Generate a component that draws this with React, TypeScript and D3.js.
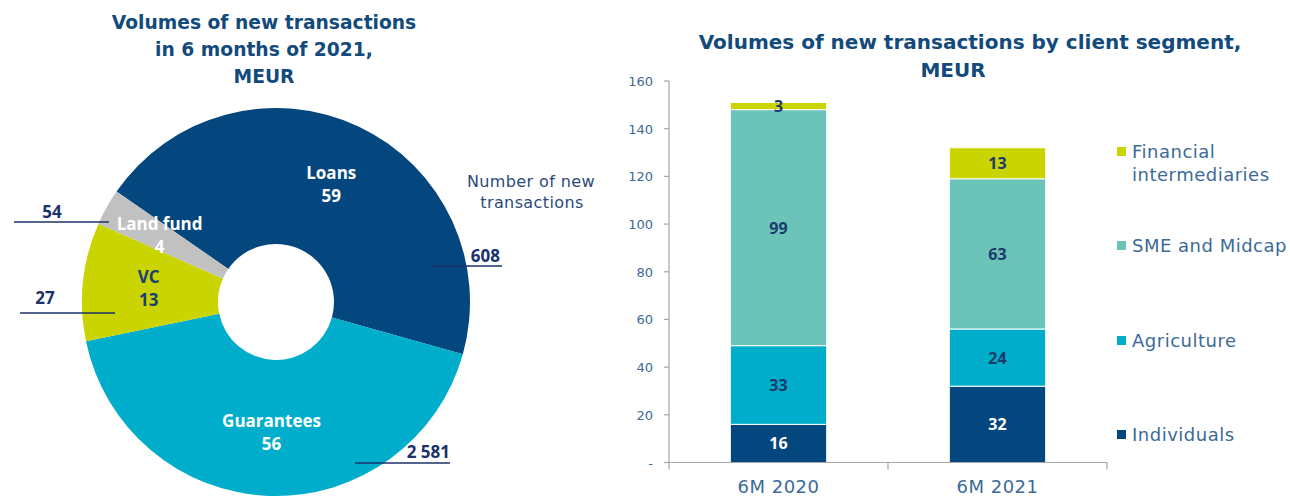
import React from 'react';
import * as d3 from 'd3';

// ---- Data ----
const donutCategories = ['Loans', 'Guarantees', 'VC', 'Land fund'];
const donutVolumes = [59, 56, 13, 4];
const donutTransactions = ['608', '2 581', '27', '54'];

const periods = ['6M 2020', '6M 2021'];
const segmentNames = ['Individuals', 'Agriculture', 'SME and Midcap', 'Financial intermediaries'];
const individuals = [16, 32];
const agriculture = [33, 24];
const smeMidcap = [99, 63];
const financialIntermediaries = [3, 13];
const yTickValues = [0, 20, 40, 60, 80, 100, 120, 140, 160];

// ---- Styles ----
const FONT = "'Open Sans', 'DejaVu Sans', sans-serif";
const WIDE = "'DejaVu Sans', 'Open Sans', sans-serif";
const TITLE = '#124a7c';
const NAVY = '#1b326b';
const AXISTXT = '#3b6a98';
const donutColors = ['#03477e', '#00aecb', '#c9d400', '#c1c1c1'];
const donutTextColors = ['#ffffff', '#ffffff', '#1d3f78', '#ffffff'];
const segColors = ['#03477e', '#00adca', '#6cc3b8', '#c9d400'];
const segTextColors = ['#ffffff', '#1d3a6d', '#1d3a6d', '#1d3a6d'];

// annotation layout for outside counts (line y offset from centre, line x range, text position)
const annot = [
  { ly: -36, x0: 156, x1: 226, tx: 224, ty: -46 },
  { ly: 161, x0: 79, x1: 174, tx: 174, ty: 150 },
  { ly: 11, x0: -256, x1: -161, tx: -231, ty: -4 },
  { ly: -80, x0: -262, x1: -167, tx: -224, ty: -90 },
];
const labelNudge = [
  [0, 0],
  [0, 0],
  [2, 0],
  [-3, -4],
];

export default function App() {
  const W = 1290, H = 496;
  // donut
  const cx = 276, cy = 302, rOut = 194, rIn = 58;
  const start = (-55.3 * Math.PI) / 180;
  const pie = d3.pie<number>().sort(null).startAngle(start).endAngle(start + 2 * Math.PI);
  const arcs = pie(donutVolumes);
  const arc = d3.arc<d3.PieArcDatum<number>>().innerRadius(rIn).outerRadius(rOut);
  const labelArc = d3.arc<d3.PieArcDatum<number>>().innerRadius(130).outerRadius(130);

  // bars
  const x = d3.scaleBand<string>().domain(periods).range([669, 1107]).paddingInner(0.56).paddingOuter(0.28);
  const y = d3.scaleLinear().domain([0, 160]).range([462.5, 81]);
  const series = [individuals, agriculture, smeMidcap, financialIntermediaries];
  const table = periods.map((p, i) => {
    const row: any = { period: p };
    segmentNames.forEach((s, k) => (row[s] = series[k][i]));
    return row;
  });
  const stacked = d3.stack<any>().keys(segmentNames)(table);

  const legendY = [435, 341, 246, 152];

  return (
    <svg width={W} height={H} style={{ position: 'absolute', left: 0, top: 0, background: '#fff' }} fontFamily={FONT}>
      {/* Left title */}
      <g fill={TITLE} fontWeight={700} fontSize={18.7} textAnchor="middle" fontFamily={WIDE}>
        <text x={264} y={29}>Volumes of new transactions</text>
        <text x={264} y={56}>in 6 months of 2021,</text>
        <text x={264} y={83}>MEUR</text>
      </g>
      {/* Donut */}
      <g transform={`translate(${cx},${cy})`}>
        {arcs.map((a, i) => (
          <path key={i} d={arc(a) || ''} fill={donutColors[i]} />
        ))}
        {arcs.map((a, i) => {
          const [lx0, ly0] = labelArc.centroid(a);
          const lx = lx0 + labelNudge[i][0];
          const ly = ly0 + labelNudge[i][1];
          return (
            <g key={'l' + i} fill={donutTextColors[i]} fontWeight={700} fontSize={17} textAnchor="middle">
              <text x={lx} y={ly - 5}>{donutCategories[i]}</text>
              <text x={lx} y={ly + 18}>{donutVolumes[i]}</text>
            </g>
          );
        })}
        {annot.map((a, i) => (
          <g key={'a' + i}>
            <line x1={a.x0} x2={a.x1} y1={a.ly} y2={a.ly} stroke={NAVY} strokeWidth={1.5} />
            <text x={a.tx} y={a.ty + 6} fill={NAVY} fontWeight={700} fontSize={17} textAnchor={i < 2 ? 'end' : 'middle'}>
              {donutTransactions[i]}
            </text>
          </g>
        ))}
      </g>
      <g fill="#2b4a7c" fontSize={16} letterSpacing={0.4} textAnchor="middle" fontFamily={WIDE}>
        <text x={531} y={187}>Number of new</text>
        <text x={532} y={208}>transactions</text>
      </g>

      {/* Right title */}
      <g fill={TITLE} fontWeight={700} fontSize={20} textAnchor="middle" fontFamily={WIDE}>
        <text x={970} y={49}>Volumes of new transactions by client segment,</text>
        <text x={953} y={77}>MEUR</text>
      </g>

      {/* Bars */}
      {stacked.map((s, k) => (
        <g key={s.key}>
          {s.map((d, i) => (
            <rect
              key={i}
              x={x(periods[i])}
              width={x.bandwidth()}
              y={y(d[1])}
              height={y(d[0]) - y(d[1])}
              fill={segColors[k]}
              stroke="#fff"
              strokeWidth={1}
            />
          ))}
        </g>
      ))}
      {stacked.map((s, k) => (
        <g key={'t' + s.key} fill={segTextColors[k]} fontWeight={700} fontSize={16} textAnchor="middle">
          {s.map((d, i) => (
            <text key={i} x={(x(periods[i]) || 0) + x.bandwidth() / 2} y={y((d[0] + d[1]) / 2) + 6}>
              {series[k][i]}
            </text>
          ))}
        </g>
      ))}

      {/* Y axis */}
      <line x1={669} x2={669} y1={y(160)} y2={y(0)} stroke="#a6a6a6" strokeWidth={1.2} />
      {yTickValues.map((t) => (
        <g key={t}>
          <line x1={664} x2={669} y1={y(t)} y2={y(t)} stroke="#a6a6a6" strokeWidth={1.2} />
          <text x={653} y={y(t) + 5} fill={AXISTXT} fontSize={13} textAnchor="end" fontFamily={WIDE}>
            {t === 0 ? '-' : t}
          </text>
        </g>
      ))}
      {/* X axis */}
      <line x1={669} x2={1107} y1={y(0)} y2={y(0)} stroke="#a6a6a6" strokeWidth={1.2} />
      {[669, 669 + x.step(), 1107].map((t, i) => (
        <line key={i} x1={t} x2={t} y1={y(0)} y2={y(0) + 7} stroke="#a6a6a6" strokeWidth={1.2} />
      ))}
      {periods.map((p) => (
        <text key={p} x={(x(p) || 0) + x.bandwidth() / 2} y={493} fill={AXISTXT} fontSize={18} letterSpacing={0.5} textAnchor="middle" fontFamily={WIDE}>
          {p}
        </text>
      ))}

      {/* Legend */}
      {segmentNames.map((s, k) => (
        <g key={s} fontFamily={WIDE} fontSize={18} letterSpacing={0.5}>
          <rect x={1117} y={legendY[k] - 5} width={9} height={9} fill={segColors[k]} />
          {s === 'Financial intermediaries' ? (
            <text fill={AXISTXT}>
              <tspan x={1132} y={legendY[k] + 6}>Financial</tspan>
              <tspan x={1132} y={legendY[k] + 29}>intermediaries</tspan>
            </text>
          ) : (
            <text x={1132} y={legendY[k] + 6} fill={AXISTXT}>
              {s}
            </text>
          )}
        </g>
      ))}
    </svg>
  );
}
